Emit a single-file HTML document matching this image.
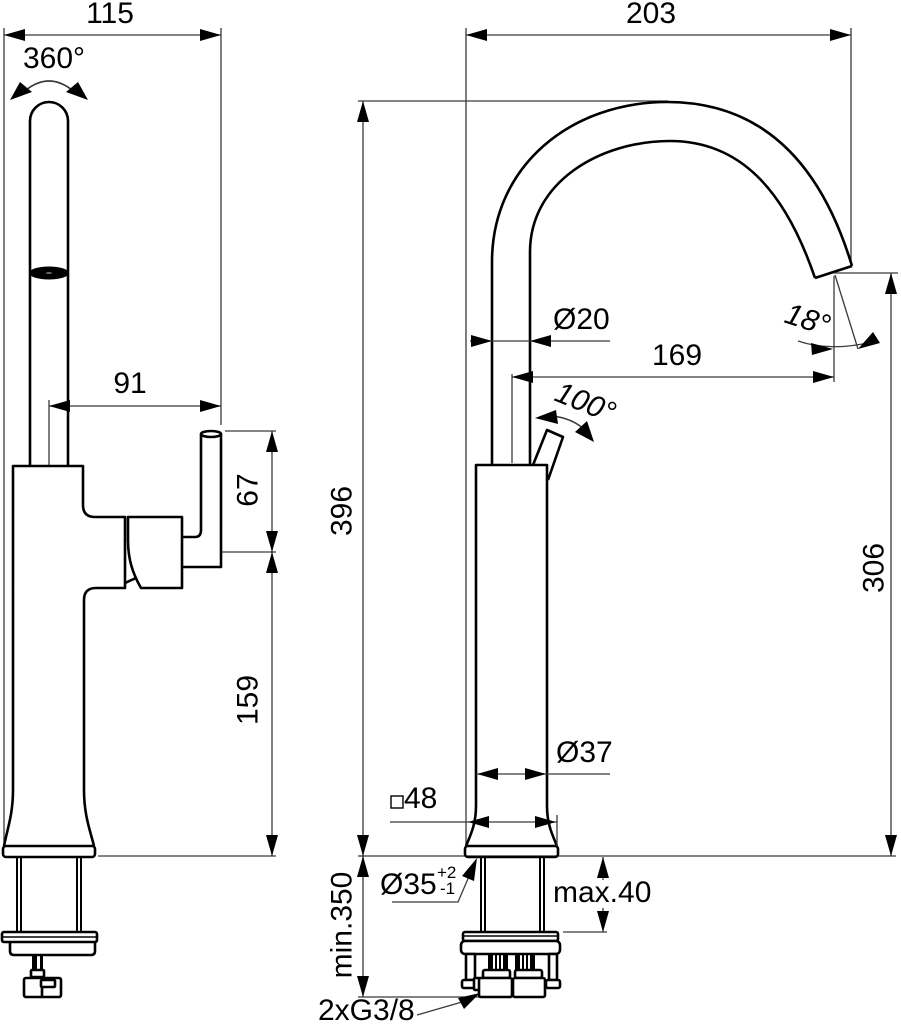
<!DOCTYPE html>
<html><head><meta charset="utf-8"><style>
html,body{margin:0;padding:0;background:#fff;}
svg{display:block;}
text{font-family:"Liberation Sans",Arial,sans-serif;font-size:30px;fill:#000;}
.d{stroke:#3a3a3a;stroke-width:1.3;fill:none;}
.o{stroke:#000;stroke-width:2.6;fill:none;stroke-linejoin:round;}
.ow{stroke:#000;stroke-width:2.6;fill:#fff;stroke-linejoin:round;}
.a{fill:#000;stroke:none;}
</style></head><body>
<svg width="901" height="1024" viewBox="0 0 901 1024" xmlns="http://www.w3.org/2000/svg">
<!-- ================= LEFT VIEW ================= -->
<!-- dim lines -->
<line class="d" x1="4" y1="28" x2="4" y2="842"/>
<line class="d" x1="221" y1="28" x2="221" y2="425"/>
<line class="d" x1="4" y1="35" x2="221" y2="35"/>
<polygon class="a" points="4,35 25,29 25,41"/>
<polygon class="a" points="221,35 200,29 200,41"/>
<text x="110" y="23" text-anchor="middle">115</text>

<text x="23" y="68">360°</text>
<path class="d" d="M26,90 Q49,72 72,90" style="stroke-width:1.6"/>
<polygon class="a" points="10,100 20,82 32,92"/>
<polygon class="a" points="88,100 78,82 66,92"/>

<!-- spout tube -->
<path class="o" d="M30,466 L30,121 A19,19 0 0 1 68,121 L68,466"/>
<ellipse cx="49" cy="273" rx="20" ry="6.5" fill="#000"/>
<ellipse cx="49" cy="273" rx="3" ry="0.8" fill="#888"/>

<!-- 91 -->
<line class="d" x1="49" y1="400" x2="49" y2="466"/>
<line class="d" x1="49" y1="406" x2="221" y2="406"/>
<polygon class="a" points="49,406 70,400 70,412"/>
<polygon class="a" points="221,406 200,400 200,412"/>
<text x="130" y="393" text-anchor="middle">91</text>

<!-- body -->
<path class="o" d="M13,790 L13,466 L83,466 L83,505 Q83,517 95,517 L125,517 L125,588 L96,588 Q84,588 84,600 L84,790 C84,815 90,830 94,846"/>
<path class="o" d="M13,790 C13,815 7,830 4,846"/>
<rect class="o" x="3" y="846" width="92" height="11" rx="3"/>

<!-- lever -->
<path class="o" d="M128,517 L182,517 L182,588 L141,588 C133,574 128,560 128,540 Z"/>
<line class="o" x1="125" y1="583" x2="136" y2="578"/>
<path class="o" d="M182,537 L195,537 Q201,537 201,530 L201,434 M221,434 L221,567 L182,567"/>
<ellipse class="o" cx="211" cy="434" rx="10" ry="3"/>

<!-- 67 / 159 -->
<line class="d" x1="225" y1="431" x2="276" y2="431"/>
<line class="d" x1="222" y1="552" x2="276" y2="552"/>
<line class="d" x1="98" y1="856" x2="276" y2="856"/>
<line class="d" x1="272" y1="431" x2="272" y2="856"/>
<polygon class="a" points="272,431 266,452 278,452"/>
<polygon class="a" points="272,552 266,531 278,531"/>
<polygon class="a" points="272,552 266,573 278,573"/>
<polygon class="a" points="272,856 266,835 278,835"/>
<text transform="translate(247,490) rotate(-90)" x="0" y="10.5" text-anchor="middle">67</text>
<text transform="translate(247,700) rotate(-90)" x="0" y="10.5" text-anchor="middle">159</text>

<!-- shank & nut left -->
<line class="o" x1="17" y1="857" x2="17" y2="932" style="stroke-width:2"/>
<line class="o" x1="21" y1="857" x2="21" y2="932" style="stroke-width:2"/>
<line class="o" x1="77" y1="857" x2="77" y2="932" style="stroke-width:2"/>
<line class="o" x1="81" y1="857" x2="81" y2="932" style="stroke-width:2"/>
<rect class="o" x="2" y="932" width="95" height="10" rx="2"/>
<line class="o" x1="2" y1="937" x2="97" y2="937" style="stroke-width:1.6"/>
<path class="o" d="M10,942 L10,951 Q10,955 14,955 L91,955 Q95,955 95,951 L95,942"/>
<rect x="32" y="955" width="5" height="16" fill="#000"/>
<rect x="40" y="955" width="3" height="16" fill="#000"/>
<rect class="ow" x="31" y="970" width="13" height="7" rx="1"/>
<rect class="ow" x="24" y="978" width="37" height="19" rx="2"/>
<line class="o" x1="42" y1="978" x2="42" y2="997"/>
<rect class="ow" x="41" y="980" width="14" height="7" rx="1"/>

<!-- ================= RIGHT VIEW ================= -->
<line class="d" x1="466" y1="28" x2="466" y2="845"/>
<line class="d" x1="851" y1="28" x2="851" y2="262"/>
<line class="d" x1="466" y1="35" x2="851" y2="35"/>
<polygon class="a" points="466,35 487,29 487,41"/>
<polygon class="a" points="851,35 830,29 830,41"/>
<text x="651" y="23" text-anchor="middle">203</text>

<!-- 396 / min.350 -->
<line class="d" x1="358" y1="101" x2="668" y2="101"/>
<line class="d" x1="358" y1="856" x2="896" y2="856"/>
<line class="d" x1="363" y1="101" x2="363" y2="997"/>
<line class="d" x1="358" y1="997" x2="480" y2="997"/>
<polygon class="a" points="363,101 357,122 369,122"/>
<polygon class="a" points="363,856 357,835 369,835"/>
<polygon class="a" points="363,856 357,877 369,877"/>
<polygon class="a" points="363,997 357,976 369,976"/>
<text transform="translate(341,511) rotate(-90)" x="0" y="10.5" text-anchor="middle">396</text>
<text transform="translate(341,925) rotate(-90)" x="0" y="10.5" text-anchor="middle">min.350</text>

<!-- spout -->
<path class="o" d="M492,466 L492,262 C492,165 572,102 667,102 C760,102 820,160 852,266"/>
<path class="o" d="M530,466 L530,252 C530,182 600,141 670,141 C740,141 785,190 815,278"/>
<line class="o" x1="815" y1="278" x2="852" y2="266"/>

<!-- body right -->
<path class="o" d="M476,806 L476,465 L547,465 L547,806 C547,825 553,836 557,846 M476,806 C476,825 470,836 466,846"/>
<rect class="o" x="465" y="846" width="93" height="11" rx="3"/>
<!-- lever right -->
<path class="o" d="M533,465 L547,430 L563,437 L548,480"/>
<line class="d" x1="512" y1="374" x2="512" y2="463"/>

<!-- Ø20 -->
<line class="d" x1="470" y1="341" x2="610" y2="341"/>
<polygon class="a" points="492,341 471,335 471,347"/>
<polygon class="a" points="530,341 551,335 551,347"/>
<text x="553" y="329">Ø20</text>

<!-- 169 -->
<line class="d" x1="512" y1="377" x2="834" y2="377"/>
<line class="d" x1="834" y1="276" x2="834" y2="382"/>
<polygon class="a" points="512,377 533,371 533,383"/>
<polygon class="a" points="834,377 813,371 813,383"/>
<text x="677" y="365" text-anchor="middle">169</text>

<!-- 18° -->
<line class="d" x1="835" y1="275" x2="858" y2="349"/>
<path class="d" d="M798,341 Q830,352 872,342"/>
<polygon class="a" points="833,349 811,343 812,355"/>
<polygon class="a" points="858,349 873,332 880,343"/>
<text transform="translate(783,322) rotate(18)" style="font-style:italic">18°</text>

<!-- 100° -->
<text transform="translate(553,400) rotate(22)" style="font-style:italic">100°</text>
<path class="d" d="M552,416 Q572,418 585,430" style="stroke-width:1.6"/>
<polygon class="a" points="535,418 556,410 558,424"/>
<polygon class="a" points="594,442 575,432 587,421"/>

<!-- 306 -->
<line class="d" x1="834" y1="273" x2="898" y2="273"/>
<line class="d" x1="891" y1="273" x2="891" y2="856"/>
<polygon class="a" points="891,273 885,294 897,294"/>
<polygon class="a" points="891,856 885,835 897,835"/>
<text transform="translate(873,568) rotate(-90)" x="0" y="10.5" text-anchor="middle">306</text>

<!-- Ø37 -->
<line class="d" x1="476" y1="774" x2="610" y2="774"/>
<polygon class="a" points="477,774 498,768 498,780"/>
<polygon class="a" points="546,774 525,768 525,780"/>
<text x="556" y="762">Ø37</text>

<!-- □48 -->
<line class="d" x1="390" y1="822" x2="557" y2="822"/>
<line class="d" x1="557" y1="815" x2="557" y2="846"/>
<polygon class="a" points="468,822 489,816 489,828"/>
<polygon class="a" points="556,822 535,816 535,828"/>
<rect x="391" y="796" width="12" height="12" fill="none" stroke="#000" stroke-width="1.4"/>
<text x="404" y="808">48</text>

<!-- Ø35 -->
<text x="380" y="894">Ø35</text>
<text x="437" y="878" style="font-size:17px">+2</text>
<text x="440" y="894" style="font-size:17px">-1</text>
<path class="d" d="M392,902 L458,902 L470,874"/>
<polygon class="a" points="477,858 462,876 474,881"/>

<!-- max.40 -->
<text x="553" y="902">max.40</text>
<line class="d" x1="603" y1="857" x2="603" y2="880"/>
<line class="d" x1="603" y1="908" x2="603" y2="932"/>
<line class="d" x1="563" y1="932" x2="607" y2="932"/>
<polygon class="a" points="603,857 597,878 609,878"/>
<polygon class="a" points="603,932 597,911 609,911"/>

<!-- shank & nut right -->
<line class="o" x1="481" y1="857" x2="481" y2="932" style="stroke-width:2"/>
<line class="o" x1="485" y1="857" x2="485" y2="932" style="stroke-width:2"/>
<line class="o" x1="540" y1="857" x2="540" y2="932" style="stroke-width:2"/>
<line class="o" x1="544" y1="857" x2="544" y2="932" style="stroke-width:2"/>
<rect class="o" x="463" y="932" width="95" height="9" rx="2"/>
<line class="o" x1="463" y1="936" x2="558" y2="936" style="stroke-width:1.6"/>
<rect class="ow" x="461" y="941" width="99" height="13" rx="4"/>
<rect class="ow" x="466" y="954" width="9" height="26"/>
<rect class="ow" x="549" y="954" width="8" height="26"/>
<rect class="ow" x="462" y="980" width="16" height="8" rx="2"/>
<rect class="ow" x="546" y="980" width="14" height="8" rx="2"/>
<rect x="488" y="954" width="5" height="16" fill="#000"/>
<rect x="495" y="954" width="2" height="16" fill="#000"/>
<rect x="499" y="954" width="2" height="16" fill="#000"/>
<rect x="503" y="954" width="5" height="16" fill="#000"/>
<rect x="515" y="954" width="5" height="16" fill="#000"/>
<rect x="522" y="954" width="2" height="16" fill="#000"/>
<rect x="526" y="954" width="2" height="16" fill="#000"/>
<rect x="530" y="954" width="5" height="16" fill="#000"/>
<rect class="ow" x="483" y="970" width="27" height="8" rx="2"/>
<rect class="ow" x="515" y="970" width="27" height="8" rx="2"/>
<rect class="ow" x="474" y="978" width="7" height="12" rx="1"/>
<rect class="ow" x="479" y="978" width="33" height="19" rx="2"/>
<rect class="ow" x="513" y="978" width="32" height="19" rx="2"/>

<!-- 2xG3/8 -->
<text x="318" y="1020">2xG3/8</text>
<line class="d" x1="417" y1="1015" x2="462" y2="1002"/>
<polygon class="a" points="480,993 458,998 464,1009"/>
</svg>
</body></html>
